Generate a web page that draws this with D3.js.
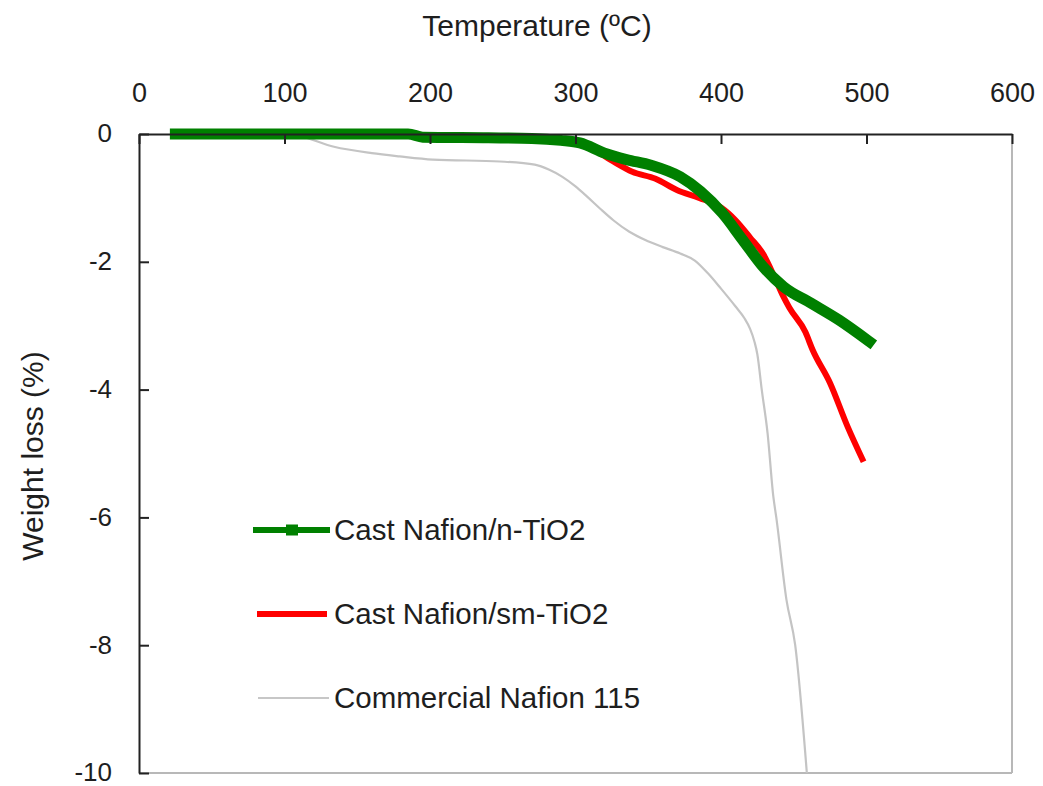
<!DOCTYPE html>
<html>
<head>
<meta charset="utf-8">
<script src="https://cdn.jsdelivr.net/npm/d3@7"></script>
<style>
  html, body { margin: 0; padding: 0; background: #fff; }
  svg { display: block; font-family: "Liberation Sans", Arial, sans-serif; }
</style>
</head>
<body>
<svg id="chart" width="1043" height="786"></svg>
<script>
// ---- data ----
const xTicks = [0, 100, 200, 300, 400, 500, 600];
const yTicks = [0, -2, -4, -6, -8, -10];

const seriesNames = ["Cast Nafion/n-TiO2", "Cast Nafion/sm-TiO2", "Commercial Nafion 115"];

const nTiO2_T = [25, 60, 100, 150, 185, 195, 240, 270, 290, 303, 320, 335, 352, 372, 386, 401, 415, 429, 443, 462, 481, 502];
const nTiO2_W = [0, 0, 0, 0, 0, -0.05, -0.06, -0.07, -0.1, -0.14, -0.3, -0.4, -0.49, -0.67, -0.9, -1.24, -1.66, -2.08, -2.39, -2.65, -2.91, -3.25];

const smTiO2_T = [25, 100, 190, 200, 270, 300, 315, 326, 339, 355, 370, 385, 400, 410, 420, 429, 437, 443, 447, 458, 463, 475, 487, 498];
const smTiO2_W = [0, 0, 0, -0.05, -0.07, -0.14, -0.28, -0.43, -0.59, -0.7, -0.88, -1.0, -1.15, -1.35, -1.62, -1.88, -2.25, -2.55, -2.72, -3.1, -3.38, -3.9, -4.58, -5.13];

const n115_T = [100, 110, 134, 160, 179, 202, 248, 272, 282, 291, 300, 308, 317, 326, 337, 348, 360, 372, 382, 391, 400, 410, 416, 420, 423, 425, 428, 432, 436, 438, 445, 451, 459];
const n115_W = [0, -0.03, -0.2, -0.3, -0.35, -0.4, -0.43, -0.48, -0.56, -0.67, -0.82, -0.98, -1.17, -1.35, -1.53, -1.66, -1.77, -1.87, -1.98, -2.18, -2.42, -2.7, -2.88, -3.05, -3.25, -3.45, -4.0, -4.68, -5.68, -6.0, -7.29, -8.0, -10];

// ---- layout ----
const svg = d3.select("#chart");
const pL = 139, pR = 1012, pT = 134, pB = 773;
const x = d3.scaleLinear().domain([0, 600]).range([pL, pR]);
const y = d3.scaleLinear().domain([0, -10]).range([pT, pB]);
const textColor = "#1e1e1e";

// frame right/bottom (gray)
svg.append("line").attr("x1", pR).attr("x2", pR).attr("y1", pT).attr("y2", pB)
  .attr("stroke", "#b8b8b8").attr("stroke-width", 2);
svg.append("line").attr("x1", pL).attr("x2", pR).attr("y1", pB).attr("y2", pB)
  .attr("stroke", "#b8b8b8").attr("stroke-width", 2);

// clip
svg.append("clipPath").attr("id", "clip").append("rect")
  .attr("x", pL).attr("y", pT - 10).attr("width", pR - pL).attr("height", pB - pT + 10);

const toPts = (T, W) => T.map((t, i) => [t, W[i]]);
const line = d3.line().x(d => x(d[0])).y(d => y(d[1])).curve(d3.curveMonotoneX);

const g = svg.append("g").attr("clip-path", "url(#clip)");
g.append("path").datum(toPts(n115_T, n115_W)).attr("d", line)
  .attr("fill", "none").attr("stroke", "#c4c4c4").attr("stroke-width", 2.2);
g.append("path").datum(toPts(smTiO2_T, smTiO2_W)).attr("d", line)
  .attr("fill", "none").attr("stroke", "#ff0000").attr("stroke-width", 6);
g.append("path").datum(toPts(nTiO2_T, nTiO2_W)).attr("d", line)
  .attr("fill", "none").attr("stroke", "#008000").attr("stroke-width", 11).attr("stroke-linecap", "square");

// axes
const fmt = d => String(d);
const xAxis = d3.axisTop(x).tickValues(xTicks).tickFormat(fmt).tickSizeInner(-10).tickSizeOuter(0).tickPadding(32);
const gx = svg.append("g").attr("transform", `translate(0,${pT})`).call(xAxis);
gx.select(".domain").attr("stroke", "#222").attr("stroke-width", 2);
gx.selectAll(".tick line").attr("stroke", "#222").attr("stroke-width", 2);
gx.selectAll(".tick text").attr("font-size", 27).attr("fill", textColor)
  .attr("font-family", "Liberation Sans, Arial, sans-serif").attr("dy", "0");

const yAxis = d3.axisLeft(y).tickValues(yTicks).tickFormat(fmt).tickSizeInner(-10).tickSizeOuter(0).tickPadding(27);
const gy = svg.append("g").attr("transform", `translate(${pL},0)`).call(yAxis);
gy.select(".domain").attr("stroke", "#222").attr("stroke-width", 2);
gy.selectAll(".tick line").attr("stroke", "#222").attr("stroke-width", 2);
gy.selectAll(".tick text").attr("font-size", 26).attr("fill", textColor)
  .attr("font-family", "Liberation Sans, Arial, sans-serif").attr("dy", "0.3em");

// axis titles
svg.append("text").attr("x", 537).attr("y", 36).attr("text-anchor", "middle")
  .attr("font-size", 30).attr("fill", textColor).text("Temperature (ºC)");
svg.append("text").attr("transform", "translate(43,456) rotate(-90)").attr("text-anchor", "middle")
  .attr("font-size", 30).attr("fill", textColor).text("Weight loss (%)");

// legend
const legY = [530, 614, 698];
const lg = svg.append("g");
lg.append("line").attr("x1", 253).attr("x2", 330).attr("y1", legY[0]).attr("y2", legY[0])
  .attr("stroke", "#008000").attr("stroke-width", 6);
lg.append("rect").attr("x", 286).attr("y", legY[0] - 5.5).attr("width", 12).attr("height", 11).attr("fill", "#008000");
lg.append("line").attr("x1", 257).attr("x2", 327).attr("y1", legY[1]).attr("y2", legY[1])
  .attr("stroke", "#ff0000").attr("stroke-width", 6);
lg.append("line").attr("x1", 258).attr("x2", 329).attr("y1", legY[2]).attr("y2", legY[2])
  .attr("stroke", "#b4b4b4").attr("stroke-width", 1.6);
seriesNames.forEach((n, i) => {
  lg.append("text").attr("x", 334).attr("y", legY[i]).attr("dy", "0.35em")
    .attr("font-size", 29.5).attr("fill", textColor).text(n);
});
</script>
</body>
</html>
